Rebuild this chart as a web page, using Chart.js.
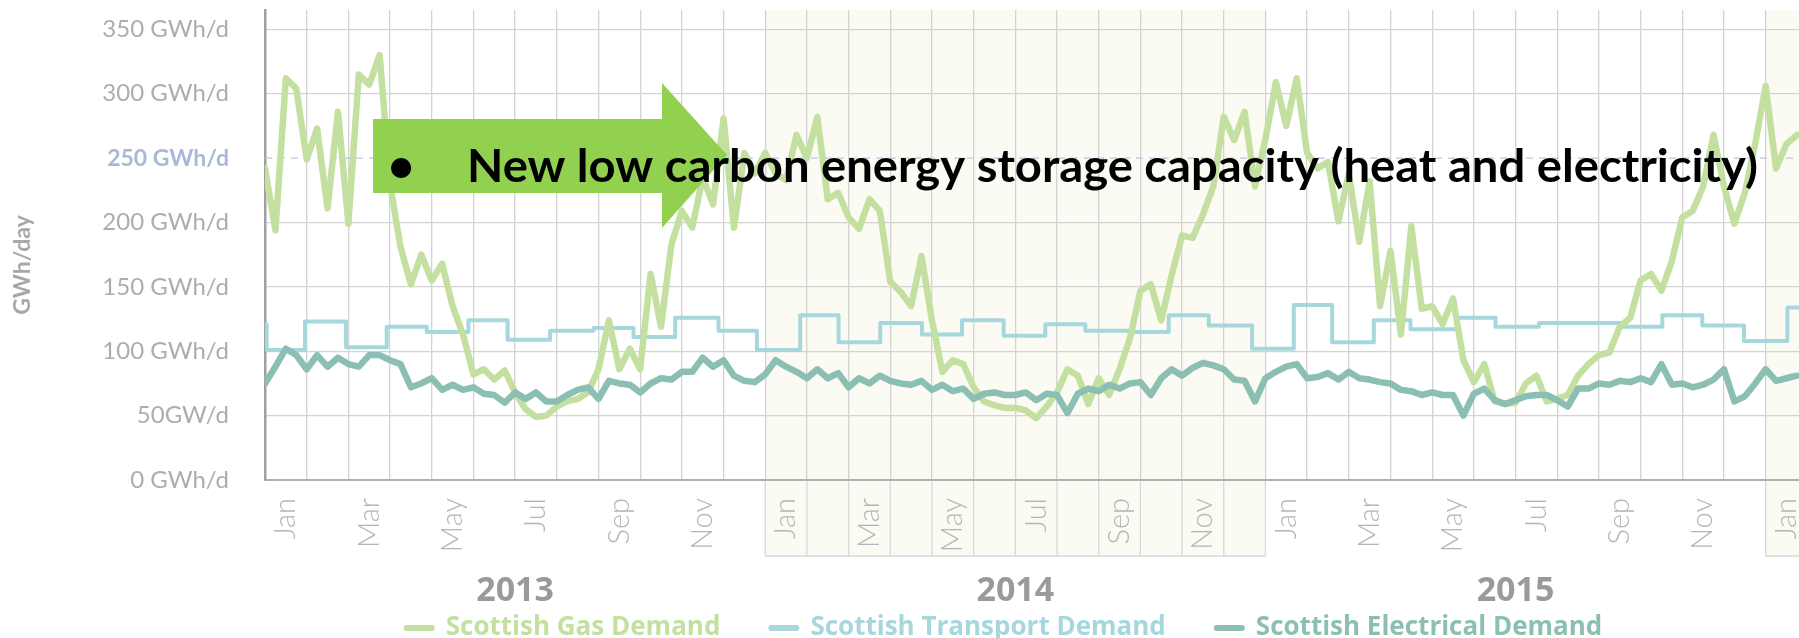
<!DOCTYPE html>
<html>
<head>
<meta charset="utf-8">
<script src="https://cdn.jsdelivr.net/npm/chart.js@4.4.0/dist/chart.umd.min.js"></script>
<style>
body { margin: 0; background: #fff; }
#wrap { width: 1799px; height: 638px; position: relative; }
</style>
</head>
<body>
<div id="wrap"><canvas id="demandChart"></canvas></div>
<script>
// month names for the x axis, years shown under them
var monthNames = ['Jan', 'Feb', 'Mar', 'Apr', 'May', 'Jun', 'Jul', 'Aug', 'Sep', 'Oct', 'Nov', 'Dec'];
var years = ['2013', '2014', '2015'];
var yTickLabels = ['0 GWh/d', '50GW/d', '100 GWh/d', '150 GWh/d', '200 GWh/d', '250 GWh/d', '300 GWh/d', '350 GWh/d'];

// weekly readings (4 per month) from Jan 2013, GWh/d
var gasDemand = [
    242, 194, 312, 304, 249, 273, 211, 286, 199, 315, 307, 330, 230, 181, 152, 175, 155, 168, 135, 113, 82, 86, 78, 85, 68,
    55, 49, 50, 57, 61, 63, 68, 86, 124, 86, 102, 86, 160, 119, 183, 209, 196, 235, 214, 281, 196, 254, 238,
    254,
    238, 233, 268, 250, 282, 218, 223, 204, 195, 218, 209, 154, 146, 135, 174, 124, 84, 93, 90, 72, 61, 58, 56,
    56,
    54, 48, 57, 68, 86, 81, 59, 79, 66, 86, 110, 147, 152, 124, 159, 190, 188, 206, 228, 282, 264, 286, 228,
    265,
    309, 275, 312, 254, 242, 247, 201, 238, 185, 232, 135, 178, 113, 197, 133, 135, 121, 141, 93, 76, 90, 61, 59,
    60,
    75, 81, 61, 63, 66, 81, 90, 97, 99, 119, 126, 155, 160, 147, 170, 204, 209, 228, 268, 228, 199, 223, 261, 306, 242, 261, 268
];
var electricalDemand = [
    75, 88, 102, 97, 86, 97, 88, 95, 90, 88, 97, 97, 93, 90, 72, 75, 79, 70, 74, 70, 72, 67, 66, 60, 68,
    63, 68, 61, 61, 66, 70, 72, 63, 77, 75, 74, 68, 75, 79, 78, 84, 84, 95, 88, 93, 81, 77, 76,
    82,
    93, 88, 84, 79, 86, 79, 83, 72, 79, 75, 81, 77, 75, 74, 77, 70, 74, 69, 71, 63, 67, 68, 66,
    66,
    68, 62, 67, 66, 52, 67, 71, 69, 74, 71, 75, 76, 66, 79, 86, 81, 87, 91, 89, 86, 78, 77, 61,
    79,
    84, 88, 90, 79, 80, 83, 78, 84, 79, 78, 76, 75, 70, 69, 66, 68, 66, 66, 50, 67, 71, 62, 59,
    62,
    65, 66, 66, 62, 57, 71, 71, 75, 74, 77, 76, 79, 76, 90, 74, 75, 72, 74, 78, 86, 61, 65, 75, 86, 77, 79, 81
];
// transport is a step series: month position where each level starts, and its level
var transportStart = [-0.5, 0.04, 0.96, 1.94, 2.92, 3.88, 4.88, 5.82, 6.84, 7.88, 8.84, 9.84, 10.88, 11.8,
    12.84, 13.76, 14.76, 15.76, 16.72, 17.72, 18.72, 19.68, 20.72, 21.68, 22.64, 23.68,
    24.68, 25.6, 26.6, 27.48, 28.6, 29.52, 30.56, 32.52, 33.52, 34.48, 35.48, 36.52];
var transportDemand = [121, 101, 123, 103, 119, 115, 124, 109, 116, 118, 111, 126, 116, 101,
    128, 107, 122, 113, 124, 112, 121, 116, 115, 128, 120, 102,
    136, 107, 124, 117, 126, 119, 122, 119, 128, 120, 108, 134];

var xMax = 36.8;
var gasColor = '#c4e0a0';
var transportColor = '#a5d7dc';
var electricalColor = '#8cbfb3';

function weekly(values) {
    return values.map(function (v, i) { return { x: i / 4, y: v }; });
}

var transportPoints = transportStart.map(function (s, i) { return { x: s, y: transportDemand[i] }; });
transportPoints.push({ x: xMax, y: transportDemand[transportDemand.length - 1] });

// light band behind 2014 and 2016, reaching under the month labels
var bandPlugin = {
    id: 'yearBands',
    beforeDraw: function (chart) {
        var x = chart.scales.x, ctx = chart.ctx, area = chart.chartArea;
        var bottom = area.bottom + 76;
        ctx.save();
        [[12, 24], [36, xMax]].forEach(function (b) {
            var l = x.getPixelForValue(b[0]);
            var r = Math.min(x.getPixelForValue(b[1]), chart.width);
            ctx.fillStyle = '#fbfbf3';
            ctx.fillRect(l, area.top, r - l, bottom - area.top);
            ctx.strokeStyle = '#d8d8d8';
            ctx.lineWidth = 1.3;
            for (var m = b[0]; m <= b[1]; m++) {
                var px = x.getPixelForValue(m);
                ctx.beginPath();
                ctx.moveTo(px, area.bottom);
                ctx.lineTo(px, bottom);
                ctx.stroke();
            }
            ctx.beginPath();
            ctx.moveTo(l, bottom);
            ctx.lineTo(r, bottom);
            ctx.stroke();
        });
        ctx.restore();
    },
    beforeDatasetsDraw: function (chart) {
        var ctx = chart.ctx, area = chart.chartArea;
        var y = chart.scales.y.getPixelForValue(250);
        ctx.save();
        ctx.strokeStyle = '#bcc5dc';
        ctx.lineWidth = 1.3;
        ctx.setLineDash([7, 6]);
        ctx.beginPath();
        ctx.moveTo(area.left, y);
        ctx.lineTo(area.right, y);
        ctx.stroke();
        ctx.restore();
    }
};

var textPlugin = {
    id: 'extraText',
    afterDraw: function (chart) {
        var ctx = chart.ctx, x = chart.scales.x;
        ctx.save();
        // y axis title
        ctx.translate(23, 265);
        ctx.rotate(-Math.PI / 2);
        ctx.fillStyle = '#a8a8a8';
        ctx.font = 'bold 23px Lato';
        ctx.textAlign = 'center';
        ctx.textBaseline = 'middle';
        ctx.fillText('GWh/day', 0, 0);
        ctx.restore();

        // year labels under the months
        ctx.save();
        ctx.fillStyle = '#9a9a9a';
        ctx.font = 'bold 34px "Open Sans"';
        ctx.textAlign = 'center';
        ctx.textBaseline = 'middle';
        years.forEach(function (yr, i) {
            ctx.fillText(yr, x.getPixelForValue(6 + 12 * i), 591);
        });
        ctx.restore();

        // legend
        ctx.save();
        ctx.font = 'bold 26px "Open Sans"';
        ctx.textBaseline = 'middle';
        var items = chart.data.datasets.map(function (ds) { return { text: ds.label, color: ds.borderColor }; });
        var total = 0;
        items.forEach(function (it) { it.w = 31 + 11 + ctx.measureText(it.text).width; total += it.w; });
        total += 48 * (items.length - 1);
        var cx = 1003 - total / 2, cy = 628;
        items.forEach(function (it) {
            ctx.strokeStyle = it.color;
            ctx.lineWidth = 6;
            ctx.lineCap = 'round';
            ctx.beginPath();
            ctx.moveTo(cx + 3, cy);
            ctx.lineTo(cx + 28, cy);
            ctx.stroke();
            ctx.fillStyle = it.color;
            ctx.fillText(it.text, cx + 42, cy);
            cx += it.w + 48;
        });
        ctx.restore();

        // green arrow with the bullet text
        ctx.save();
        ctx.fillStyle = '#92d050';
        ctx.beginPath();
        ctx.moveTo(373, 119);
        ctx.lineTo(662, 119);
        ctx.lineTo(662, 83);
        ctx.lineTo(727, 155);
        ctx.lineTo(662, 228);
        ctx.lineTo(662, 193);
        ctx.lineTo(373, 193);
        ctx.closePath();
        ctx.fill();
        var msg = 'New low carbon energy storage capacity (heat and electricity)';
        ctx.font = 'bold 46px Lato';
        var sx = 1291 / ctx.measureText(msg).width;
        ctx.fillStyle = '#000';
        ctx.textBaseline = 'alphabetic';
        ctx.textAlign = 'center';
        ctx.fillText('\u2022', 401, 182);
        ctx.translate(467, 182);
        ctx.scale(sx, 1);
        ctx.textAlign = 'left';
        ctx.fillText(msg, 0, 0);
        ctx.restore();
    }
};

var chart = new Chart(document.getElementById('demandChart'), {
    type: 'line',
    data: {
        datasets: [{
            label: 'Scottish Gas Demand',
            data: weekly(gasDemand),
            borderColor: gasColor,
            borderWidth: 6.5,
            order: 2
        }, {
            label: 'Scottish Transport Demand',
            data: transportPoints,
            borderColor: transportColor,
            borderWidth: 4,
            stepped: 'before',
            order: 3
        }, {
            label: 'Scottish Electrical Demand',
            data: weekly(electricalDemand),
            borderColor: electricalColor,
            borderWidth: 6.5,
            order: 1
        }]
    },
    options: {
        responsive: true,
        maintainAspectRatio: false,
        animation: false,
        layout: { padding: { top: 10, right: 0, bottom: 0, left: 0 } },
        elements: {
            point: { radius: 0 },
            line: { tension: 0, borderJoinStyle: 'round', borderCapStyle: 'round' }
        },
        plugins: {
            legend: { display: false },
            tooltip: { enabled: false }
        },
        scales: {
            x: {
                type: 'linear',
                min: 0,
                max: xMax,
                afterBuildTicks: function (axis) {
                    var t = [];
                    for (var m = 0; m <= 36; m++) {
                        t.push({ value: m });
                        if (m + 0.5 < xMax) t.push({ value: m + 0.5 });
                    }
                    axis.ticks = t;
                },
                afterFit: function (axis) {
                    axis.height = 158;
                    axis.paddingLeft = 0;
                    axis.paddingRight = 0;
                },
                grid: {
                    drawTicks: false,
                    lineWidth: 1.3,
                    color: function (c) {
                        return c.tick && c.tick.value % 1 === 0 ? '#d3d3d3' : 'rgba(0,0,0,0)';
                    }
                },
                border: { color: '#b0b0b0', width: 2 },
                ticks: {
                    autoSkip: false,
                    maxRotation: 90,
                    minRotation: 90,
                    padding: 18,
                    color: '#b5b5b5',
                    font: { family: 'Lato', weight: '300', size: 29 },
                    callback: function (v) {
                        if (v % 1 === 0) return '';
                        var m = Math.floor(v) % 12;
                        return m % 2 === 0 ? monthNames[m] : '';
                    }
                }
            },
            y: {
                min: 0,
                max: 365,
                afterBuildTicks: function (axis) {
                    axis.ticks = yTickLabels.map(function (l, i) { return { value: i * 50 }; });
                },
                afterFit: function (axis) {
                    axis.width = 265;
                    axis.paddingTop = 0;
                    axis.paddingBottom = 0;
                },
                grid: {
                    drawTicks: false,
                    lineWidth: 1.3,
                    color: function (c) {
                        return c.tick && c.tick.value === 250 ? 'rgba(0,0,0,0)' : '#d3d3d3';
                    }
                },
                border: { color: '#a0a0a0', width: 2.5 },
                ticks: {
                    padding: 36,
                    color: function (c) { return c.tick && c.tick.value === 250 ? '#a9b8d8' : '#adadad'; },
                    font: function (c) {
                        return c.tick && c.tick.value === 250
                            ? { family: 'Lato', weight: 'bold', size: 23 }
                            : { family: 'Lato', weight: '400', size: 24 };
                    },
                    callback: function (v) { return yTickLabels[v / 50]; }
                }
            }
        }
    },
    plugins: [bandPlugin, textPlugin]
});
</script>
</body>
</html>
